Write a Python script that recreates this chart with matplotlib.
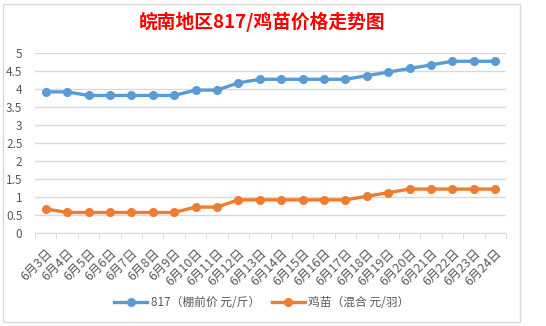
import matplotlib
matplotlib.use("Agg")
import matplotlib.pyplot as plt
from matplotlib.patches import Rectangle
import numpy as np

plt.rcParams['font.family'] = ['Noto Sans CJK SC', 'DejaVu Sans']

dates = [f"6月{d}日" for d in range(3, 25)]
price_817 = [3.92, 3.92, 3.82, 3.82, 3.82, 3.82, 3.82, 3.97, 3.97, 4.17, 4.27,
             4.27, 4.27, 4.27, 4.27, 4.37, 4.47, 4.57, 4.67, 4.77, 4.77, 4.77]
price_chick = [0.67, 0.57, 0.57, 0.57, 0.57, 0.57, 0.57, 0.72, 0.72, 0.92, 0.92,
               0.92, 0.92, 0.92, 0.92, 1.02, 1.12, 1.22, 1.22, 1.22, 1.22, 1.22]
yticks = [0, 0.5, 1, 1.5, 2, 2.5, 3, 3.5, 4, 4.5, 5]
ytick_labels = ["0", "0.5", "1", "1.5", "2", "2.5", "3", "3.5", "4", "4.5", "5"]
title = "皖南地区817/鸡苗价格走势图"
series_names = ["817（棚前价 元/斤）", "鸡苗（混合 元/羽）"]

W, H = 546, 326
fig = plt.figure(figsize=(W/100, H/100), dpi=100)
fig.patch.set_facecolor('white')
fig.patches.append(Rectangle((3/W, 4/H), (520-3)/W, (322-4)/H, transform=fig.transFigure,
                             fill=False, edgecolor='#d9d9d9', linewidth=1))

ax = fig.add_axes([35/W, 1-233/H, (506-35)/W, (233-53)/H])
x = np.arange(len(dates))
ax.plot(x, price_817, color='#5B9BD5', lw=2.4, marker='o', ms=5.5, label=series_names[0])
ax.plot(x, price_chick, color='#ED7D31', lw=2.4, marker='o', ms=5.5, label=series_names[1])

ax.set_xlim(-0.5, len(dates) - 0.5)
ax.set_ylim(0, 5)
ax.set_yticks(yticks)
ax.set_yticklabels(ytick_labels)
ax.yaxis.grid(True, color='#d9d9d9', lw=1)
ax.set_axisbelow(True)
for s in ['top', 'right', 'left']:
    ax.spines[s].set_visible(False)
ax.spines['bottom'].set_color('#d9d9d9')
ax.tick_params(axis='y', length=0, labelsize=8.5, labelcolor='#595959', pad=9)
ax.set_xticks(x)
ax.set_xticklabels(dates, rotation=45, ha='right', rotation_mode='anchor',
                   fontsize=9, color='#595959')
ax.tick_params(axis='x', length=0, pad=10)
ax.set_xticks(np.arange(-0.5, len(dates), 1), minor=True)
ax.tick_params(axis='x', which='minor', length=4, color='#d9d9d9', direction='out')

fig.text(262/W, 1-22/H, title, color='red', fontsize=13.5, fontweight='bold',
         ha='center', va='center')

fig.legend(loc='center', bbox_to_anchor=(262/W, 1-303/H), ncol=2, frameon=False,
           fontsize=8.5, labelcolor='#595959', handlelength=2.8, columnspacing=1.0,
           handletextpad=0.3)

fig.savefig('out.png', dpi=100, facecolor='white')
